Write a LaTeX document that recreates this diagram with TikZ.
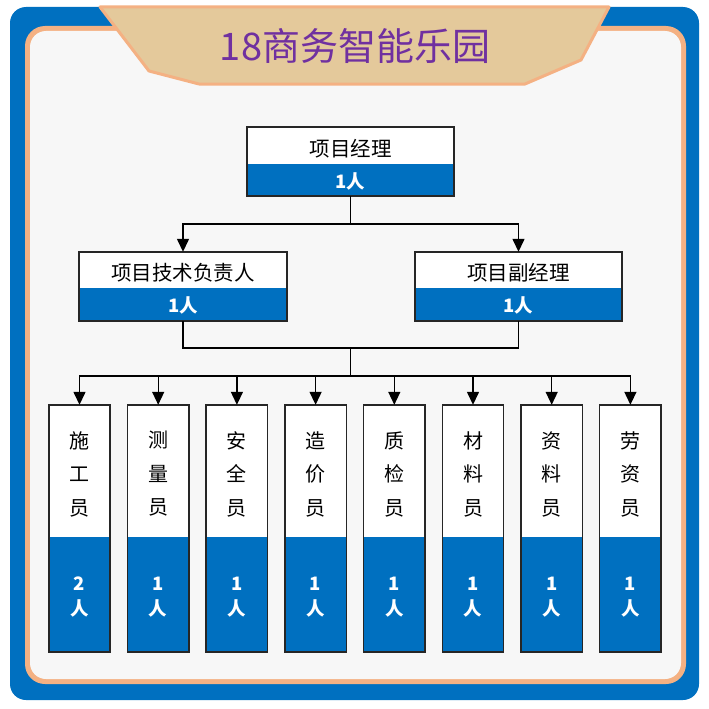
\documentclass[tikz,border=0pt]{standalone}
\usepackage{fontspec}
\setmainfont{Noto Sans CJK SC}
\newfontfamily\cjk{Noto Sans CJK SC}
\usetikzlibrary{arrows.meta}
\definecolor{mainblue}{HTML}{0070C0}
\definecolor{peach}{HTML}{F4B183}
\definecolor{tan}{HTML}{E4C99B}
\definecolor{panel}{HTML}{F7F7F7}
\definecolor{titlepurple}{HTML}{7030A0}
\newcommand{\dn}[2]{\raisebox{-#1}[\height][\depth]{#2}}
\tikzset{
  whitepart/.style={fill=white, draw=none, inner sep=0pt, font=\cjk\fontsize{20.5}{20.5}\selectfont, text=black},
  bluepart/.style={fill=mainblue, draw=none, inner sep=0pt, font=\cjk\bfseries\fontsize{18.5}{18.5}\selectfont, text=white},
  outline/.style={draw=black!85, line width=1.5pt},
  conn/.style={draw=black, line width=1.4pt},
  arr/.style={conn, -{Triangle[length=13pt,width=12pt]}},
  leafw/.style={whitepart, minimum width=61pt, minimum height=132pt},
  leafb/.style={bluepart, minimum width=61pt, minimum height=115pt},
  leaftxt/.style={inner sep=0pt, align=center, font=\cjk\fontsize{20}{33.5}\selectfont, text=black},
  leafnum/.style={inner sep=0pt, align=center, font=\cjk\bfseries\fontsize{18.5}{25}\selectfont, text=white},
}
\begin{document}
\begin{tikzpicture}[x=1pt,y=-1pt]
\useasboundingbox (0,0) rectangle (709,709);
% outer frame
\fill[mainblue, rounded corners=16pt] (10,7) rectangle (699,700);
\fill[peach, rounded corners=20pt] (25,26) rectangle (686,684);
\fill[panel, rounded corners=16pt] (30,31) rectangle (681,679);
% title banner
\draw[fill=tan, draw=peach, line width=3pt, line join=round]
  (100,7) -- (609,7) -- (581,60) -- (525,84) -- (199,84) -- (149,71) -- cycle;
\node[font=\cjk\fontsize{38}{38}\selectfont, text=titlepurple] (title) at (355,46) {18商务智能乐园};

% top box
\node[whitepart, minimum width=207pt, minimum height=37pt] (pmw) at (350.5,145.5) {\dn{3pt}{项目经理}};
\node[bluepart, minimum width=207pt, minimum height=32pt] (pmb) at (350.5,180) {\dn{1pt}{1人}};
\draw[outline] (pmw.north west) rectangle (pmb.south east);

% second level
\node[whitepart, minimum width=208pt, minimum height=36pt] (tw) at (183,270) {\dn{3pt}{项目技术负责人}};
\node[bluepart, minimum width=208pt, minimum height=33pt] (tb) at (183,304.5) {\dn{1pt}{1人}};
\draw[outline] (tw.north west) rectangle (tb.south east);
\node[whitepart, minimum width=207pt, minimum height=36pt] (dw) at (518.5,270) {\dn{3pt}{项目副经理}};
\node[bluepart, minimum width=207pt, minimum height=33pt] (db) at (518.5,304.5) {\dn{1pt}{1人}};
\draw[outline] (dw.north west) rectangle (db.south east);

\coordinate (j1) at (350.5,224);
\draw[conn] (pmb.south) -- (j1);
\draw[arr] (j1) -| (tw.north);
\draw[arr] (j1) -| (dw.north);
\coordinate (j2) at (350.5,348);
\coordinate (j3) at (350.5,376);
\draw[conn] (tb.south) |- (j2) -| (db.south);
\draw[conn] (j2) -- (j3);

% leaves
\foreach \i/\name/\num in {0/施\\工\\员/2, 1/测\\量\\员/1, 2/安\\全\\员/1, 3/造\\价\\员/1, 4/质\\检\\员/1, 5/材\\料\\员/1, 6/资\\料\\员/1, 7/劳\\资\\员/1} {
  \pgfmathsetmacro{\cx}{79.5+78.7*\i}
  \node[leafw] (lw\i) at (\cx,471) {};
  \node[leafb] (lb\i) at (\cx,594.5) {};
  \draw[outline] (lw\i.north west) rectangle (lb\i.south east);
  \node[leaftxt] (lt\i) at (\cx,474) {\name};
  \node[leafnum] (ln\i) at (\cx,597) {\num\\人};
  \draw[arr] (j3) -| (lw\i.north);
}
\end{tikzpicture}
\end{document}
